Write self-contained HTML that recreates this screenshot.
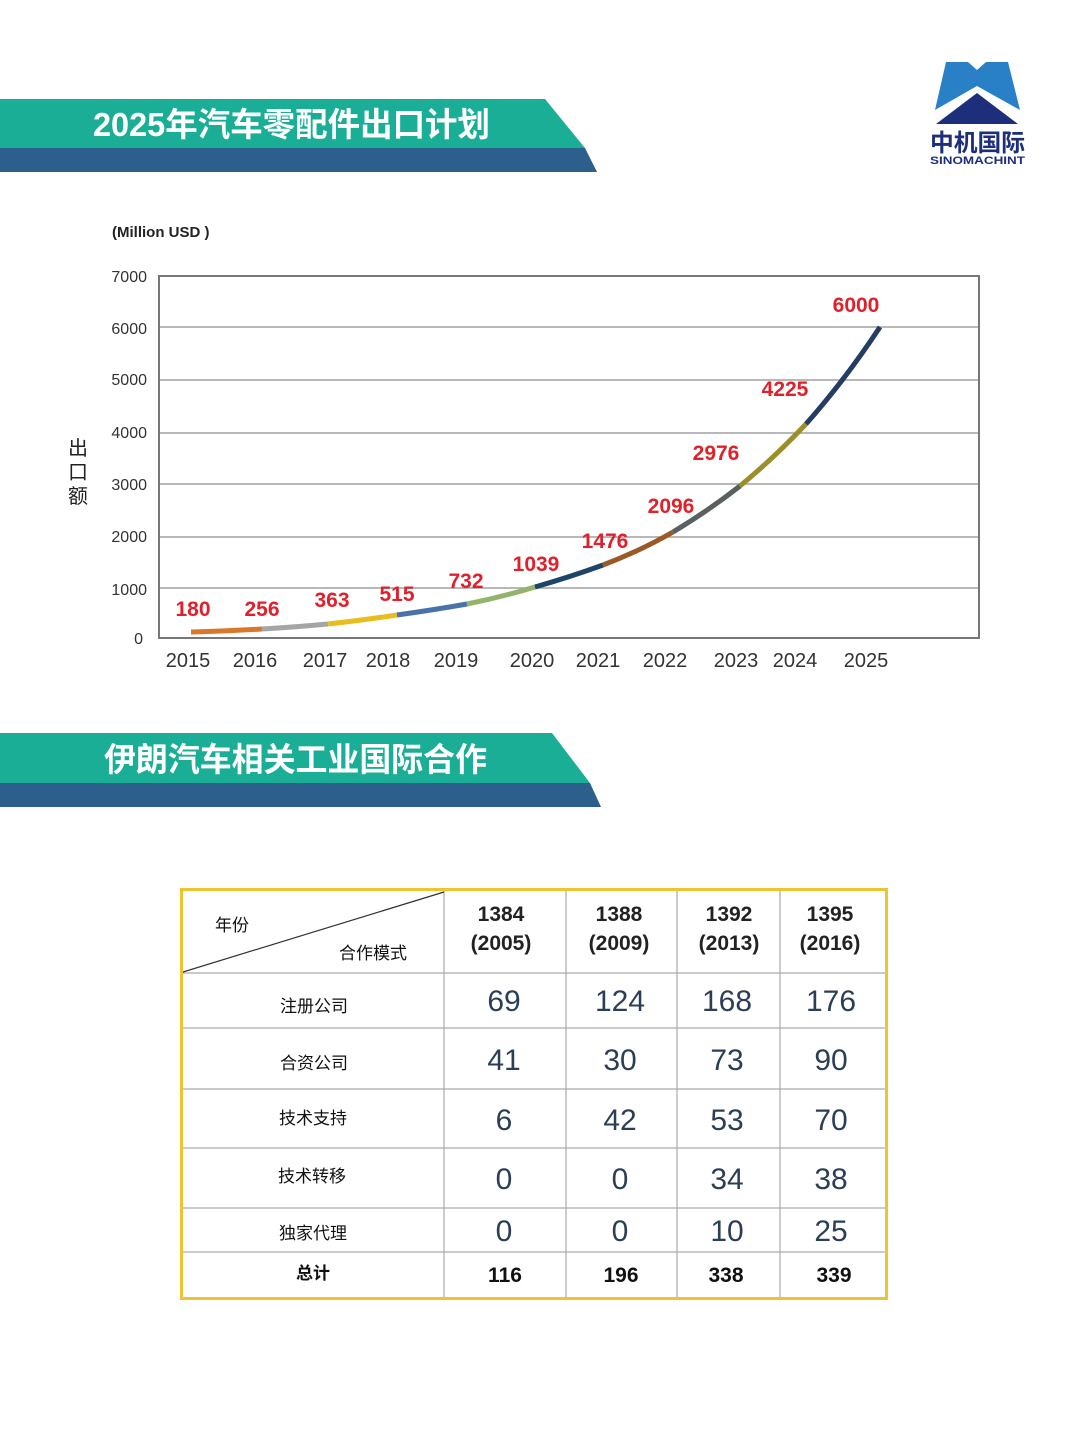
<!DOCTYPE html>
<html><head><meta charset="utf-8"><style>
html,body{margin:0;padding:0;background:#fff;}
svg{display:block;}
text{font-family:"Liberation Sans","Noto Sans CJK SC",sans-serif;}
.n{font-family:"Liberation Sans Narrow","Liberation Sans","Noto Sans CJK SC",sans-serif;}
</style></head><body>
<svg width="1080" height="1430" viewBox="0 0 1080 1430" xmlns="http://www.w3.org/2000/svg">
<!-- banner 1 -->
<polygon points="0,99 545,99 585,148 0,148" fill="#1aae96"/>
<polygon points="0,148 585,148 597,172 0,172" fill="#2c5f8c"/>
<text x="93" y="136" font-size="33" font-weight="bold" fill="#fff" textLength="397" lengthAdjust="spacingAndGlyphs">2025年汽车零配件出口计划</text>
<!-- banner 2 -->
<polygon points="0,733 552,733 590,783 0,783" fill="#1aae96"/>
<polygon points="0,783 590,783 601,807 0,807" fill="#2c5f8c"/>
<text x="104" y="771" font-size="33" font-weight="bold" fill="#fff" textLength="383" lengthAdjust="spacingAndGlyphs">伊朗汽车相关工业国际合作</text>
<!-- logo -->
<polygon points="946,62 968,62 977,70 986,62 1008,62 1020,110 977,86 935,110" fill="#2a80c6"/>
<polygon points="977,93 1018,124 936,124" fill="#1d2f7a"/>
<text x="930" y="151" font-size="24" font-weight="bold" fill="#1d2f7a" textLength="95" lengthAdjust="spacingAndGlyphs">中机国际</text>
<text x="930" y="164" font-size="11" font-weight="bold" fill="#1d2f7a" textLength="95" lengthAdjust="spacingAndGlyphs">SINOMACHINT</text>
<!-- chart -->
<text x="112" y="237" font-size="15" font-weight="bold" fill="#222" class="n">(Million USD )</text>
<g stroke="#a0a0a0" stroke-width="1.5">
<line x1="159" y1="327" x2="979" y2="327"/>
<line x1="159" y1="380" x2="979" y2="380"/>
<line x1="159" y1="433" x2="979" y2="433"/>
<line x1="159" y1="484" x2="979" y2="484"/>
<line x1="159" y1="537" x2="979" y2="537"/>
<line x1="159" y1="588" x2="979" y2="588"/>
</g>
<rect x="159" y="276" width="820" height="362" fill="none" stroke="#777" stroke-width="2"/>
<g font-size="16" fill="#333" text-anchor="end" class="n">
<text x="147" y="282">7000</text><text x="147" y="334">6000</text><text x="147" y="385">5000</text>
<text x="147" y="438">4000</text><text x="147" y="490">3000</text><text x="147" y="542">2000</text>
<text x="147" y="595">1000</text><text x="143" y="644">0</text>
</g>
<g font-size="20" fill="#222" text-anchor="middle">
<text x="78" y="455">出</text><text x="78" y="479">口</text><text x="78" y="503">额</text>
</g>
<g font-size="20" fill="#333" text-anchor="middle" class="n">
<text x="188" y="667">2015</text><text x="255" y="667">2016</text><text x="325" y="667">2017</text>
<text x="388" y="667">2018</text><text x="456" y="667">2019</text><text x="532" y="667">2020</text>
<text x="598" y="667">2021</text><text x="665" y="667">2022</text><text x="736" y="667">2023</text>
<text x="795" y="667">2024</text><text x="866" y="667">2025</text>
</g>
<g stroke-width="5" stroke-linecap="butt" fill="none">
<path d="M191,632 Q230,631 262,629" stroke="#d9772a"/>
<path d="M262,629 Q296,627 328,624" stroke="#a5a5a5"/>
<path d="M328,624 Q364,620 397,615" stroke="#e8bd1d"/>
<path d="M397,615 Q433,610 467,604" stroke="#4a72aa"/>
<path d="M467,604 Q502,597 535,587" stroke="#92b56a"/>
<path d="M535,587 Q570,577 603,565" stroke="#1e4566"/>
<path d="M603,565 Q640,551 673,532" stroke="#9a5a28"/>
<path d="M673,532 Q708,511 740,486" stroke="#5a6060"/>
<path d="M740,486 Q774,458 806,424" stroke="#9a8f2a"/>
<path d="M806,424 Q845,380 880,327" stroke="#243d63"/>
</g>
<g font-size="21" font-weight="bold" fill="#e0202a" text-anchor="middle" class="n">
<text x="193" y="616">180</text><text x="262" y="616">256</text><text x="332" y="607">363</text>
<text x="397" y="601">515</text><text x="466" y="588">732</text><text x="536" y="571">1039</text>
<text x="605" y="548">1476</text><text x="671" y="513">2096</text><text x="716" y="460">2976</text>
<text x="785" y="396">4225</text><text x="856" y="312">6000</text>
</g>
<!-- table -->
<g stroke="#aaa" stroke-width="1.2">
<line x1="444" y1="888" x2="444" y2="1300"/><line x1="566" y1="888" x2="566" y2="1300"/>
<line x1="677" y1="888" x2="677" y2="1300"/><line x1="780" y1="888" x2="780" y2="1300"/>
<line x1="180" y1="973" x2="888" y2="973"/><line x1="180" y1="1028" x2="888" y2="1028"/>
<line x1="180" y1="1089" x2="888" y2="1089"/><line x1="180" y1="1148" x2="888" y2="1148"/>
<line x1="180" y1="1208" x2="888" y2="1208"/><line x1="180" y1="1252" x2="888" y2="1252"/>
</g>
<line x1="183" y1="972" x2="444" y2="892" stroke="#333" stroke-width="1.2"/>
<rect x="181.5" y="889.5" width="705" height="409" fill="none" stroke="#f1c232" stroke-width="3"/>
<g font-size="17" fill="#111">
<text x="215" y="931">年份</text><text x="339" y="959">合作模式</text>
</g>
<g font-size="21" font-weight="bold" fill="#222" text-anchor="middle" class="n">
<text x="501" y="921">1384</text><text x="501" y="950">(2005)</text>
<text x="619" y="921">1388</text><text x="619" y="950">(2009)</text>
<text x="729" y="921">1392</text><text x="729" y="950">(2013)</text>
<text x="830" y="921">1395</text><text x="830" y="950">(2016)</text>
</g>
<g font-size="17" fill="#111" text-anchor="middle">
<text x="314" y="1012">注册公司</text><text x="314" y="1069">合资公司</text>
<text x="313" y="1124">技术支持</text><text x="312" y="1182">技术转移</text>
<text x="313" y="1239">独家代理</text>
<text x="313" y="1279" font-weight="bold">总计</text>
</g>
<g font-size="30" fill="#2c3e57" text-anchor="middle" class="n">
<text x="504" y="1011">69</text><text x="620" y="1011">124</text><text x="727" y="1011">168</text><text x="831" y="1011">176</text>
<text x="504" y="1070">41</text><text x="620" y="1070">30</text><text x="727" y="1070">73</text><text x="831" y="1070">90</text>
<text x="504" y="1130">6</text><text x="620" y="1130">42</text><text x="727" y="1130">53</text><text x="831" y="1130">70</text>
<text x="504" y="1189">0</text><text x="620" y="1189">0</text><text x="727" y="1189">34</text><text x="831" y="1189">38</text>
<text x="504" y="1241">0</text><text x="620" y="1241">0</text><text x="727" y="1241">10</text><text x="831" y="1241">25</text>
</g>
<g font-size="21" font-weight="bold" fill="#111" text-anchor="middle" class="n">
<text x="505" y="1282">116</text><text x="621" y="1282">196</text><text x="726" y="1282">338</text><text x="834" y="1282">339</text>
</g>
</svg>
</body></html>
